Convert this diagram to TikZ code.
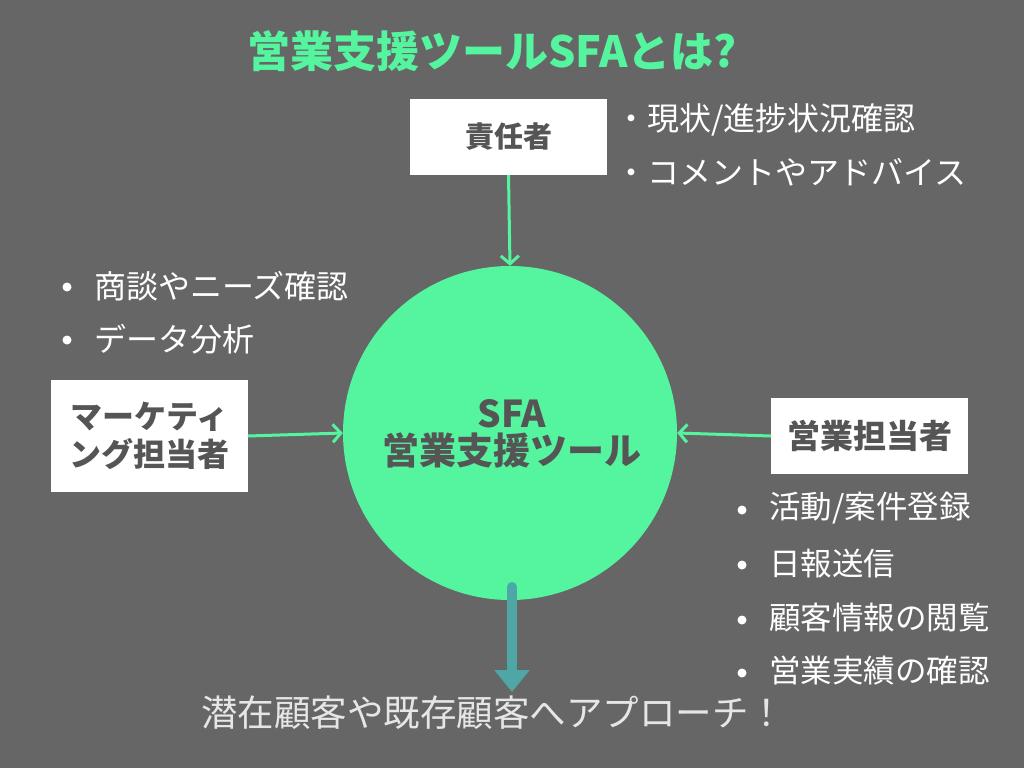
\documentclass[tikz,border=0pt]{standalone}
\usepackage{fontspec}
\setmainfont{Noto Sans CJK JP}
\usetikzlibrary{arrows.meta}
\definecolor{bg}{HTML}{666666}
\definecolor{sfagreen}{HTML}{55F5A0}
\definecolor{boxtext}{HTML}{555555}
\definecolor{teal}{HTML}{4FA6A6}
\definecolor{lighttext}{HTML}{E6E6E6}
\tikzset{
  rolebox/.style={fill=white, draw=none, text=boxtext, font=\fontsize{29}{36}\selectfont\bfseries, align=center, inner sep=0pt},
  bullettext/.style={text=white, font=\fontsize{32}{36}\selectfont, anchor=west, inner sep=0pt},
  feed/.style={draw=sfagreen, line width=3pt, -{Straight Barb[length=8pt,width=18pt,line width=3pt]}},
}
\begin{document}
\begin{tikzpicture}[x=1pt,y=-1pt]
\useasboundingbox (0,0) rectangle (1024,768);
\fill[bg] (0,0) rectangle (1024,768);
% title
\node[text=sfagreen, font=\fontsize{43}{48}\selectfont\bfseries, inner sep=0pt] (title) at (492,51) {営業支援ツールSFAとは?};
% circle
\node[circle, fill=sfagreen, minimum size=334pt, inner sep=0pt] (sfa) at (510,433) {};
\node[text=boxtext, font=\fontsize{37}{40}\selectfont\bfseries, align=center, inner sep=0pt] (sfatext) at (512,434) {SFA\\[-3pt]営業支援ツール};
% boxes
\node[rolebox, minimum width=197pt, minimum height=76pt] (boss) at (508.5,137) {責任者};
\node[rolebox, minimum width=197pt, minimum height=112pt, font=\fontsize{32}{38}\selectfont\bfseries] (mkt) at (149.5,436) {マーケティ\\ング担当者};
\node[rolebox, minimum width=197pt, minimum height=76pt, font=\fontsize{33}{38}\selectfont\bfseries] (sales) at (869.5,436) {営業担当者};
% connectors
\draw[feed] (boss.south) -- (sfa.north);
\draw[feed] (mkt.east) -- (sfa.west);
\draw[feed] (sales.west) -- (sfa.east);
% boss bullets
\node[bullettext] (b1) at (615,120) {・現状/進捗状況確認};
\node[bullettext] (b2) at (615,172) {・コメントやアドバイス};
% marketing bullets
\fill[white] (67,287) circle (4.5pt);
\node[bullettext] (m1) at (94,286) {商談やニーズ確認};
\fill[white] (67,340) circle (4.5pt);
\node[bullettext] (m2) at (94,339) {データ分析};
% sales bullets
\fill[white] (742,510) circle (4.5pt);
\node[bullettext, font=\fontsize{31.5}{36}\selectfont] (s1) at (769,508) {活動/案件登録};
\fill[white] (742,565) circle (4.5pt);
\node[bullettext, font=\fontsize{31.5}{36}\selectfont] (s2) at (769,564) {日報送信};
\fill[white] (742,620) circle (4.5pt);
\node[bullettext, font=\fontsize{31.5}{36}\selectfont] (s3) at (769,618) {顧客情報の閲覧};
\fill[white] (742,673) circle (4.5pt);
\node[bullettext, font=\fontsize{31.5}{36}\selectfont] (s4) at (769,671) {営業実績の確認};
% bottom
\node[text=lighttext, font=\fontsize{36.5}{42}\selectfont, inner sep=0pt] (approach) at (493,713) {潜在顧客や既存顧客へアプローチ！};
\coordinate (tstart) at (512,587);
\coordinate (tend) at (512,692);
\draw[teal, line width=10pt, line cap=round] (tstart) -- (512,665);
\draw[teal, line width=10pt, -{Triangle[length=22pt,width=34pt]}] (512,655) -- (tend);
\end{tikzpicture}
\end{document}
